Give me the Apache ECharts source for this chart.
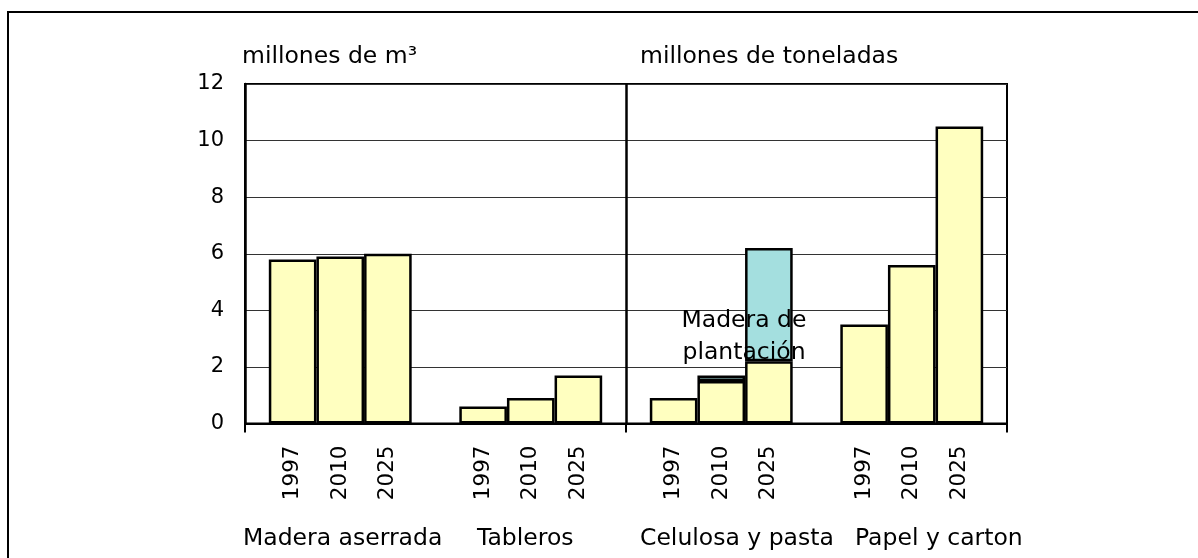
<!DOCTYPE html>
<html>
<head>
<meta charset="utf-8">
<script src="https://cdn.jsdelivr.net/npm/echarts@6/dist/echarts.min.js"></script>
<style>
html, body { margin: 0; padding: 0; background: #fff; }
#main { width: 1198px; height: 558px; }
</style>
</head>
<body>
<div id="main"></div>
<script>
// datos
var years = ['1997', '2010', '2025'];
var groups = ['Madera aserrada', 'Tableros', 'Celulosa y pasta', 'Papel y carton'];
var maderaAserrada = [5.8, 5.9, 6.0];
var tableros = [0.6, 0.9, 1.7];
var celulosa = [0.9, 1.5, 2.2];
var papel = [3.5, 5.6, 10.5];
var celulosaPlantacion = [0, 0.2, 4.0];   // parte de madera de plantación (encima)
var yTicks = [0, 12, 2];                   // min, max, intervalo

// 4 grupos de 3 años, con un hueco entre grupos (17 posiciones, sin boundaryGap)
var produccion = [maderaAserrada, tableros, celulosa, papel];
var categorias = [''];
var base = ['-'];
var plantacion = ['-'];
for (var g = 0; g < produccion.length; g++) {
    for (var k = 0; k < years.length; k++) {
        categorias.push(years[k]);
        base.push(produccion[g][k]);
        plantacion.push(g == 2 && celulosaPlantacion[k] ? celulosaPlantacion[k] : '-');
    }
    categorias.push('');
    base.push('-');
    plantacion.push('-');
}

var FONT = 'DejaVu Sans';
var chart = echarts.init(document.getElementById('main'));

var option = {
    animation: false,
    backgroundColor: '#fff',
    grid: {
        left: 245, right: 191, top: 84, bottom: 134.5,
        show: true, borderColor: '#000', borderWidth: 2, backgroundColor: 'transparent'
    },
    xAxis: {
        type: 'category',
        data: categorias,
        boundaryGap: false,
        axisLine: {lineStyle: {color: '#000', width: 2}},
        axisTick: {
            show: true, length: 9, lineStyle: {color: '#000', width: 2},
            interval: function (i) { return i % 8 === 0; }
        },
        axisLabel: {
            interval: 0, rotate: 90, margin: 22,
            fontFamily: FONT, fontSize: 21.5, color: '#000'
        },
        splitLine: {
            show: true, lineStyle: {color: '#000', width: 2.5},
            interval: function (i) { return i === 8; }
        }
    },
    yAxis: {
        type: 'value',
        min: yTicks[0], max: yTicks[1], interval: yTicks[2],
        axisLine: {show: true, lineStyle: {color: '#000', width: 2.5}},
        axisTick: {show: false},
        axisLabel: {margin: 21, fontFamily: FONT, fontSize: 21, color: '#000'},
        splitLine: {lineStyle: {color: '#333', width: 1}}
    },
    series: [
        {
            name: 'total',
            type: 'bar',
            stack: 'a',
            data: base,
            barCategoryGap: '0%',
            itemStyle: {color: '#FFFFC0', borderColor: '#000', borderWidth: 2.5}
        },
        {
            name: 'Madera de plantación',
            type: 'bar',
            stack: 'a',
            data: plantacion,
            barCategoryGap: '0%',
            itemStyle: {color: '#A4DFDF', borderColor: '#000', borderWidth: 2.5}
        }
    ],
    graphic: [
        {
            type: 'rect', silent: true, z: 0,
            shape: {x: 8, y: 12, width: 1400, height: 800},
            style: {fill: 'none', stroke: '#000', lineWidth: 2}
        },
        {
            type: 'text', left: 242, top: 45,
            style: {text: 'millones de m³', font: '23.5px "' + FONT + '"', fill: '#000'}
        },
        {
            type: 'text', left: 640, top: 45,
            style: {text: 'millones de toneladas', font: '23.5px "' + FONT + '"', fill: '#000'}
        },
        {
            type: 'text', left: 243, top: 527,
            style: {text: groups[0], font: '23.5px "' + FONT + '"', fill: '#000'}
        },
        {
            type: 'text', left: 477, top: 527,
            style: {text: groups[1], font: '23.5px "' + FONT + '"', fill: '#000'}
        },
        {
            type: 'text', left: 640, top: 527,
            style: {text: groups[2], font: '23.5px "' + FONT + '"', fill: '#000'}
        },
        {
            type: 'text', left: 855, top: 527,
            style: {text: groups[3], font: '23.5px "' + FONT + '"', fill: '#000'}
        },
        {
            type: 'text', x: 744, y: 305, z: 100,
            style: {
                text: 'Madera de\nplantación', font: '23.5px "' + FONT + '"', fill: '#000',
                align: 'center', lineHeight: 32
            }
        }
    ]
};

chart.setOption(option);
</script>
</body>
</html>
